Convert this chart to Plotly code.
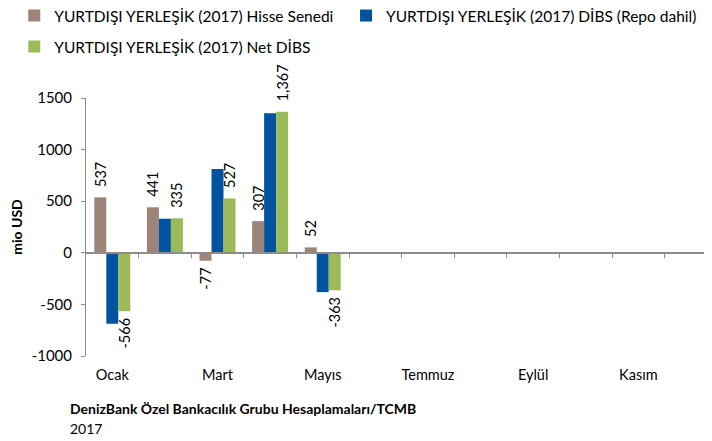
import plotly.graph_objects as go

months = ["Ocak", "Şubat", "Mart", "Nisan", "Mayıs", "Haziran", "Temmuz",
          "Ağustos", "Eylül", "Ekim", "Kasım", "Aralık"]
data_months = months[:5]
hisse = [537, 441, -77, 307, 52]
dibs_repo = [-687, 330, 813, 1352, -381]
net_dibs = [-566, 335, 527, 1367, -363]
ytick_vals = [-1000, -500, 0, 500, 1000, 1500]

names = ["YURTDIŞI YERLEŞİK (2017) Hisse Senedi",
         "YURTDIŞI YERLEŞİK (2017) DİBS (Repo dahil)",
         "YURTDIŞI YERLEŞİK (2017) Net DİBS"]
colors = ["#9C8578", "#00539F", "#9BBB59"]

FONT = "Lato"
NB = "\u00a0"
idx = [months.index(m) for m in data_months]


def label(v):
    s = f"{v:,}"
    return (NB * 2 + s) if v > 0 else (s + NB)


fig = go.Figure()
for vals, name, col, lab, leg in [(hisse, names[0], colors[0], True, "legend"),
                                  (dibs_repo, names[1], colors[1], False, "legend2"),
                                  (net_dibs, names[2], colors[2], True, "legend3")]:
    fig.add_trace(go.Bar(
        x=idx, y=vals, name=name, marker=dict(color=col, line=dict(width=0)),
        text=[label(v) for v in vals] if lab else None,
        textposition="outside" if lab else "none",
        textangle=-90, cliponaxis=False, constraintext="none",
        textfont=dict(family=FONT, size=14.5, color="#000000"),
        legend=leg,
    ))

legend_common = dict(orientation="h", xanchor="left", yanchor="middle",
                     font=dict(family=FONT, size=15.5, color="#000000"),
                     itemwidth=30, bgcolor="rgba(0,0,0,0)")

# page body adds an 8px offset; figure spans 704x433 of the 712x441 window
fig.update_layout(
    width=704, height=433,
    margin=dict(l=78, r=0, t=90, b=85, autoexpand=False),
    paper_bgcolor="white", plot_bgcolor="white",
    barmode="group", bargap=0.316, bargroupgap=0,
    font=dict(family=FONT, size=14, color="#000000"),
    showlegend=True,
    legend=dict(x=-0.1146, y=1.318, **legend_common),
    legend2=dict(x=0.4154, y=1.318, **legend_common),
    legend3=dict(x=-0.1146, y=1.198, **legend_common),
    xaxis=dict(
        range=[-0.5, 11.4], tickmode="array",
        tickvals=[i + 0.5 for i in range(len(months) - 1)],
        ticktext=[""] * (len(months) - 1),
        ticks="outside", ticklen=4, tickcolor="#8c8c8c", tickwidth=1,
        showline=True, linecolor="#8c8c8c", linewidth=1.5,
        anchor="free", position=0.4, showgrid=False, zeroline=False,
    ),
    xaxis2=dict(
        range=[-0.5, 11.4], overlaying="x", anchor="y", side="bottom",
        tickmode="array", tickvals=list(range(0, len(months), 2)),
        ticktext=months[0::2], ticks="", showline=False, showgrid=False,
        zeroline=False, ticklabelstandoff=8,
        tickfont=dict(family=FONT, size=14.5, color="#000000"),
    ),
    yaxis=dict(
        range=[-1000, 1500], tickmode="array", tickvals=ytick_vals,
        ticktext=[str(v) for v in ytick_vals],
        ticks="outside", ticklen=4, tickcolor="#8c8c8c",
        showline=True, linecolor="#8c8c8c", linewidth=1,
        showgrid=False, zeroline=False, ticklabelstandoff=6,
        tickfont=dict(family=FONT, size=15, color="#000000"),
        title=dict(text="<b>mio USD</b>", font=dict(family=FONT, size=14), standoff=20),
    ),
    annotations=[
        dict(text="<b>DenizBank Özel Bankacılık Grubu Hesaplamaları/TCMB</b>",
             xref="paper", yref="paper", x=-0.029, y=-0.205, xanchor="left", yanchor="middle",
             showarrow=False, font=dict(family=FONT, size=14, color="#000000")),
        dict(text="2017", xref="paper", yref="paper", x=-0.029, y=-0.28,
             xanchor="left", yanchor="middle", showarrow=False,
             font=dict(family=FONT, size=14, color="#000000")),
    ],
)
fig.add_trace(go.Scatter(x=[0], y=[0], xaxis="x2", mode="markers",
                         marker=dict(opacity=0), showlegend=False, hoverinfo="skip"))

fig.write_html("out.html")
